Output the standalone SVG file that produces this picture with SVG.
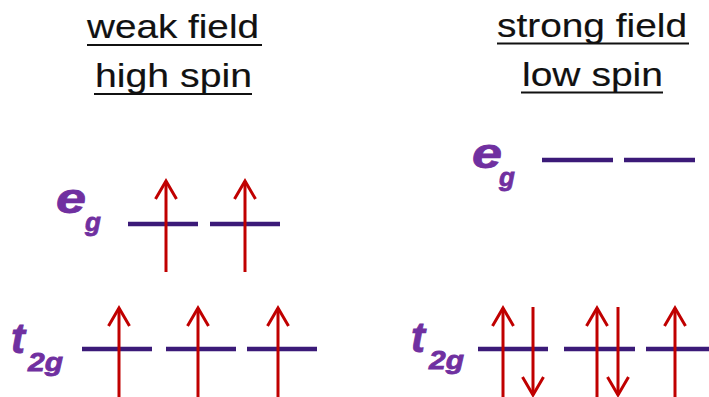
<svg xmlns="http://www.w3.org/2000/svg" width="709" height="397" viewBox="0 0 709 397">
  <style>
    .title { font-family: "Liberation Sans", Arial, sans-serif; font-size: 34px; fill: #111; stroke: #111; stroke-width: 0.15; }
    .ul { stroke: #111; stroke-width: 2.2; }
    .lab { font-family: "Liberation Sans", Arial, sans-serif; font-weight: bold; font-style: italic; fill: #7030a0; stroke: #7030a0; stroke-width: 0.8; }
    .big { font-size: 42px; }
    .sub { font-size: 26px; }
    .level { stroke: #3b1a78; stroke-width: 4.5; }
    .e { stroke: #c00000; stroke-width: 3; fill: none; marker-end: url(#head); }
  </style>
  <defs>
    <marker id="head" markerUnits="userSpaceOnUse" viewBox="-22 -14 26 28" markerWidth="26" markerHeight="28" refX="0" refY="0" orient="auto" overflow="visible">
      <path d="M-18,-10.5 L0,0 L-18,10.5" fill="none" stroke="#c00000" stroke-width="3"/>
    </marker>
  </defs>

  <g id="title-weak">
    <text class="title" x="87" y="38" textLength="172" lengthAdjust="spacingAndGlyphs">weak field</text>
    <line class="ul" x1="87" y1="45" x2="262" y2="45"/>
    <text class="title" x="95" y="87" textLength="157" lengthAdjust="spacingAndGlyphs">high spin</text>
    <line class="ul" x1="94" y1="94" x2="252" y2="94"/>
  </g>
  <g id="title-strong">
    <text class="title" x="497" y="37" textLength="190" lengthAdjust="spacingAndGlyphs">strong field</text>
    <line class="ul" x1="497" y1="43.5" x2="689" y2="43.5"/>
    <text class="title" x="522" y="86" textLength="141" lengthAdjust="spacingAndGlyphs">low spin</text>
    <line class="ul" x1="521" y1="92.5" x2="663" y2="92.5"/>
  </g>

  <g id="left-eg">
    <text class="lab big" x="56" y="213" textLength="30" lengthAdjust="spacingAndGlyphs">e</text>
    <text class="lab sub" x="85" y="231">g</text>
    <line class="level" x1="128" y1="224" x2="198" y2="224"/>
    <line class="level" x1="210" y1="224" x2="280" y2="224"/>
  </g>
  <g id="left-t2g">
    <text class="lab big" x="11" y="353">t</text>
    <text class="lab sub" x="28" y="371" textLength="35" lengthAdjust="spacingAndGlyphs">2g</text>
    <line class="level" x1="82" y1="349" x2="152" y2="349"/>
    <line class="level" x1="166" y1="349" x2="236" y2="349"/>
    <line class="level" x1="247" y1="349" x2="317" y2="349"/>
  </g>
  <g id="right-eg">
    <text class="lab big" x="472" y="168" textLength="30" lengthAdjust="spacingAndGlyphs">e</text>
    <text class="lab sub" x="499" y="186">g</text>
    <line class="level" x1="542" y1="160" x2="613" y2="160"/>
    <line class="level" x1="624" y1="160" x2="695" y2="160"/>
  </g>
  <g id="right-t2g">
    <text class="lab big" x="411" y="352">t</text>
    <text class="lab sub" x="429" y="369" textLength="35" lengthAdjust="spacingAndGlyphs">2g</text>
    <line class="level" x1="478" y1="349" x2="548" y2="349"/>
    <line class="level" x1="564" y1="349" x2="635" y2="349"/>
    <line class="level" x1="646" y1="349" x2="715" y2="349"/>
  </g>

  <g id="electrons">
    <line class="e" x1="166" y1="272" x2="166" y2="181"/>
    <line class="e" x1="245" y1="272" x2="245" y2="181"/>
    <line class="e" x1="119" y1="400" x2="119" y2="308"/>
    <line class="e" x1="198" y1="400" x2="198" y2="308"/>
    <line class="e" x1="278" y1="400" x2="278" y2="308"/>
    <line class="e" x1="503" y1="400" x2="503" y2="308"/>
    <line class="e" x1="533" y1="307" x2="533" y2="395"/>
    <line class="e" x1="597" y1="400" x2="597" y2="308"/>
    <line class="e" x1="618" y1="307" x2="618" y2="395"/>
    <line class="e" x1="675" y1="400" x2="675" y2="308"/>
  </g>
</svg>
